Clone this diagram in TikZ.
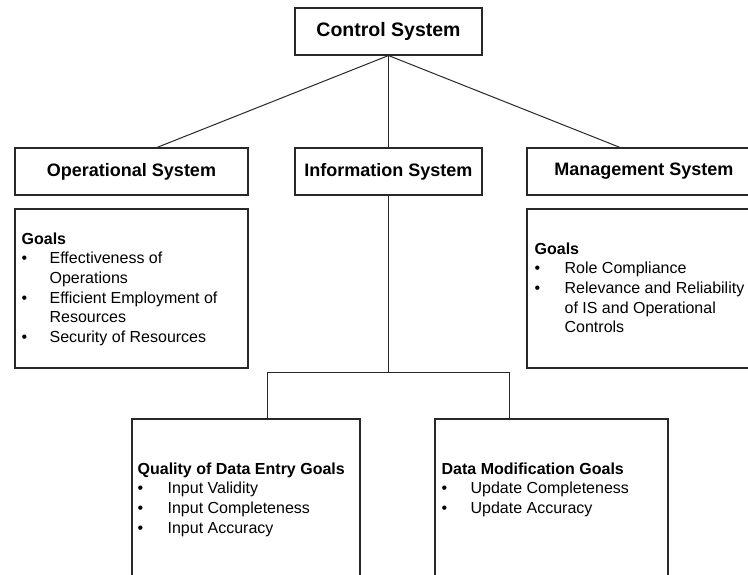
\documentclass[tikz,border=0pt]{standalone}
\usepackage{fontspec}
\setmainfont{Liberation Sans}
\usepackage{array}
\usetikzlibrary{positioning}
\definecolor{linegray}{RGB}{40,40,40}
\tikzset{
  sys_box/.style = {rectangle, draw=linegray, line width=1.1pt, inner sep=0pt,
    minimum height=47pt, font=\fontsize{18}{21}\selectfont\bfseries},% box with a system name
  top_box/.style = {sys_box, font=\fontsize{19.5}{23}\selectfont\bfseries},% the root box
  goal_box/.style = {rectangle, draw=linegray, line width=1.1pt, inner sep=0pt},% empty frame round a goal list
  goal_txt/.style = {anchor=north west, inner sep=0pt, align=left,
    font=\fontsize{16}{19.6}\selectfont},% the goal list itself
  link/.style = {linegray, line width=1pt},
}
\newcommand{\goalhead}[1]{\multicolumn{2}{@{}l@{}}{\textbf{#1}}}

\begin{document}
\begin{tikzpicture}[x=1pt,y=-1pt]
  \useasboundingbox (0,0) rectangle (748,575);

  \node[top_box, minimum width=187pt] (ctrl) at (388.5,31.5) {Control System};

  \node[sys_box, minimum width=233pt] (ops) at (131.5,171.5) {Operational System};
  \node[sys_box, minimum width=187pt] (info) at (388.5,171.5) {Information System};
  \node[sys_box, minimum width=234pt] (mgmt) at (644,171.5) {Management System};

  \node[goal_box, minimum width=233pt, minimum height=159pt] (opsg) at (131.5,288.5) {};
  \node[goal_box, minimum width=234pt, minimum height=159pt] (mgmtg) at (644,288.5) {};
  \node[goal_box, minimum width=228pt, minimum height=181pt] (entry) at (246,509.5) {};
  \node[goal_box, minimum width=233pt, minimum height=181pt] (modif) at (551.5,509.5) {};

  %   goal lists
  \node[goal_txt] (opsg_t) at ([xshift=7pt,yshift=-22pt]opsg.north west) {%
    \begin{tabular}{@{}p{28pt}@{}l@{}}
      \goalhead{Goals}\\
      \textbullet & Effectiveness of\\
                  & Operations\\
      \textbullet & Efficient Employment of\\
                  & Resources\\
      \textbullet & Security of Resources
    \end{tabular}};
  \node[goal_txt] (mgmtg_t) at ([xshift=8pt,yshift=-32pt]mgmtg.north west) {%
    \begin{tabular}{@{}p{30pt}@{}l@{}}
      \goalhead{Goals}\\
      \textbullet & Role Compliance\\
      \textbullet & Relevance and Reliability\\
                  & of IS and Operational\\
                  & Controls
    \end{tabular}};
  \node[goal_txt] (entry_t) at ([xshift=6pt,yshift=-42pt]entry.north west) {%
    \begin{tabular}{@{}p{30pt}@{}l@{}}
      \goalhead{Quality of Data Entry Goals}\\
      \textbullet & Input Validity\\
      \textbullet & Input Completeness\\
      \textbullet & Input Accuracy
    \end{tabular}};
  \node[goal_txt] (modif_t) at ([xshift=7pt,yshift=-42pt]modif.north west) {%
    \begin{tabular}{@{}p{29pt}@{}l@{}}
      \goalhead{Data Modification Goals}\\
      \textbullet & Update Completeness\\
      \textbullet & Update Accuracy
    \end{tabular}};

  %   top level links
  \path[link] (ctrl.south) edge ([xshift=25.5pt]ops.north);
  \path[link] (ctrl.south) edge (info.north);
  \path[link] (ctrl.south) edge ([xshift=-24pt]mgmt.north);
  %   information system branches
  \coordinate (split) at (388.5,372.5);
  \path[link] (info.south) edge (split);
  \draw[link] (split) -| ([xshift=21pt]entry.north);
  \draw[link] (split) -| ([xshift=-42.5pt]modif.north);
\end{tikzpicture}
\end{document}
